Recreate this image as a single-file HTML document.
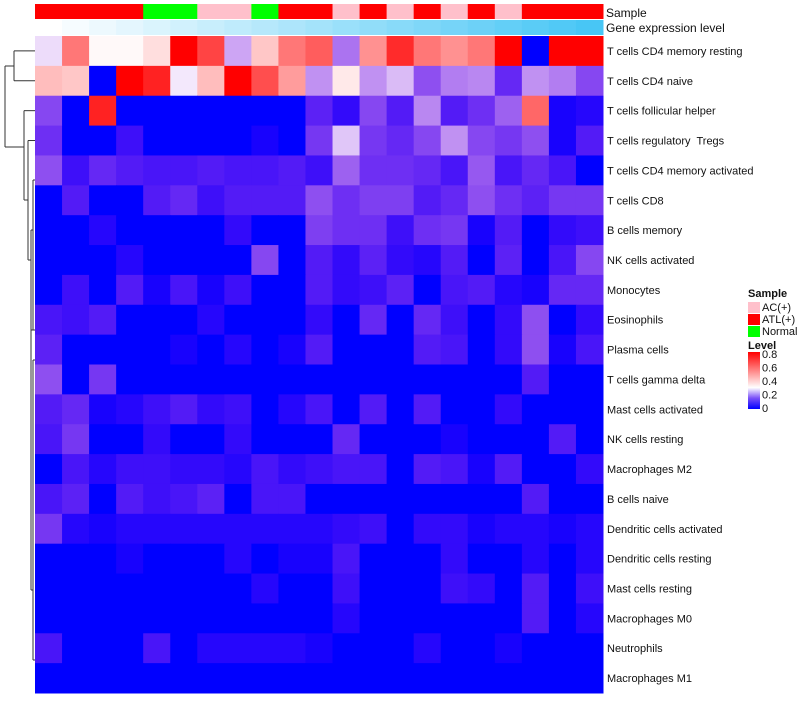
<!DOCTYPE html>
<html><head><meta charset="utf-8"><style>
body{margin:0;background:#fff;font-family:"Liberation Sans",sans-serif;}
svg text{font-family:"Liberation Sans",sans-serif;fill:#111;white-space:pre;}
</style></head><body>
<svg id="chart" width="800" height="700"></svg>
<script>
const rows=["T cells CD4 memory resting","T cells CD4 naive","T cells follicular helper","T cells regulatory  Tregs","T cells CD4 memory activated","T cells CD8","B cells memory","NK cells activated","Monocytes","Eosinophils","Plasma cells","T cells gamma delta","Mast cells activated","NK cells resting","Macrophages M2","B cells naive","Dendritic cells activated","Dendritic cells resting","Mast cells resting","Macrophages M0","Neutrophils","Macrophages M1"];
const samples=["ATL","ATL","ATL","ATL","Normal","Normal","AC","AC","Normal","ATL","ATL","AC","ATL","AC","ATL","AC","ATL","AC","ATL","ATL","ATL"];
const levels=[
[.27,.55,.31,.31,.36,.8,.65,.22,.4,.55,.6,.17,.5,.7,.55,.5,.55,.8,0,.8,.8],
[.42,.4,0,.8,.72,.28,.42,.8,.63,.48,.2,.34,.2,.24,.13,.18,.19,.08,.2,.18,.12],
[.12,0,.72,0,0,0,0,0,0,0,.07,.03,.12,.06,.19,.06,.09,.15,.58,.01,.02],
[.09,0,0,.04,0,0,0,0,.01,0,.1,.25,.1,.08,.12,.2,.12,.1,.13,.01,.06],
[.13,.04,.08,.06,.05,.05,.06,.05,.05,.06,.04,.15,.09,.09,.08,.05,.14,.05,.08,.05,0],
[0,.06,0,0,.06,.08,.04,.06,.06,.06,.13,.09,.11,.11,.06,.08,.13,.09,.07,.1,.1],
[0,0,.02,0,0,0,0,.03,0,0,.11,.09,.09,.04,.09,.1,.01,.06,0,.03,.04],
[0,0,0,.02,0,0,0,0,.12,0,.06,.03,.07,.03,.02,.06,0,.07,0,.05,.12],
[0,.04,0,.06,.01,.05,.01,.04,0,0,.06,.03,.04,.07,0,.05,.06,.02,.01,.08,.08],
[.05,.04,.06,0,0,0,.02,0,0,0,.03,0,.08,0,.08,.04,0,.03,.13,0,.03],
[.07,0,0,0,0,.01,0,.02,0,.01,.06,0,0,0,.06,.05,0,.03,.13,.01,.05],
[.13,0,.1,0,0,0,0,0,0,0,0,0,0,0,0,0,0,0,.06,0,0],
[.06,.08,.01,.02,.04,.06,.03,.04,0,.02,.05,0,.06,0,.06,0,0,.03,0,0,0],
[.05,.1,0,0,.03,0,0,.03,0,0,0,.08,0,0,0,.01,0,0,0,.06,0],
[0,.05,.02,.04,.04,.03,.03,.02,.05,.03,.04,.05,.05,0,.06,.05,.01,.06,0,0,.03],
[.05,.07,0,.06,.04,.05,.07,0,.05,.05,0,0,0,0,0,0,0,0,.06,0,0],
[.1,.02,.01,.02,.02,.02,.02,.02,.02,.02,.02,.03,.04,0,.03,.03,.01,.02,.02,.01,.02],
[0,0,0,.01,0,0,0,.02,0,.01,.01,.05,0,0,0,.03,0,0,.02,0,.02],
[0,0,0,0,0,0,0,0,.02,0,0,.04,0,0,0,.04,.03,0,.06,0,.04],
[0,0,0,0,0,0,0,0,0,0,0,.02,0,0,0,0,0,0,.06,0,.02],
[.05,0,0,0,.05,0,.02,.02,.02,.02,.01,0,0,0,.02,0,0,.01,0,0,0],
[0,0,0,0,0,0,0,0,0,0,0,0,0,0,0,0,0,0,0,0,0]];
const sampleColors={AC:"#FFC0CB",ATL:"#FF0000",Normal:"#00FF00"};
const NS="http://www.w3.org/2000/svg";
const svg=document.getElementById('chart');
const X0=35,X1=603,Y0=36,Y1=693;
const cw=(X1-X0)/samples.length, rh=(Y1-Y0)/rows.length;
function xs(j){return X0+j*cw;}
function ys(i){return Y0+i*rh;}
function col(v){v=Math.max(0,Math.min(0.8,v));
 if(v<=0.3){const t=v/0.3;const r=Math.round(255*Math.pow(t,0.7));const g=Math.round(255*Math.pow(t,1.4));const b=Math.round(255-15*Math.sin(Math.PI*t));return `rgb(${r},${g},${b})`;}
 const t=(v-0.3)/0.5;const c=Math.round(255*Math.pow(1-t,1.1));return `rgb(255,${c},${c})`;}
function mk(tag,attrs){const e=document.createElementNS(NS,tag);for(const k in attrs)e.setAttribute(k,attrs[k]);svg.appendChild(e);return e;}
samples.forEach((s,j)=>{
 const r=mk('rect',{x:xs(j),y:4,width:cw+0.5,height:15,fill:sampleColors[s]});
 
 
 const t=j/(samples.length-1);
 const g=mk('rect',{x:xs(j),y:20,width:cw+0.5,height:15,fill:`rgb(${Math.round(255-(255-72)*t)},${Math.round(255-(255-198)*t)},${Math.round(255-(255-245)*t)})`});
 
 
});
levels.forEach((row,i)=>{row.forEach((v,j)=>{
 const r=mk('rect',{x:xs(j),y:ys(i),width:cw+0.5,height:rh+0.5,fill:col(v)});
 
 
});
 const t=mk('text',{x:607,y:ys(i)+rh/2+4,'font-size':11});t.textContent=rows[i];
 
 
});
let t1=mk('text',{x:606,y:17,'font-size':12});t1.textContent="Sample";


let t2=mk('text',{x:606,y:32,'font-size':12});t2.textContent="Gene expression level";


function ry(i){return ys(i)+rh/2;}
const dl=[[35,ry(0),14,ry(0)],[35,ry(1),14,ry(1)],[14,ry(0),14,ry(1)],[14,66,5,66],[5,66,5,147],[5,147,24,147],
[35,ry(2),24,ry(2)],[24,ry(2),24,200],[24,200,28,200],[35,ry(3),28,ry(3)],[28,ry(3),28,260],[28,260,31,260],
[31,230,31,590],[31,230,33,230],[31,590,33,590],[33,180,33,330],[33,360,33,660],[33,180,35,180],[33,330,35,330],[33,360,35,360],[33,660,35,660],[31,330,33,330]];
dl.forEach(l=>{const e=mk('line',{x1:l[0],y1:l[1],x2:l[2],y2:l[3],stroke:'#333','stroke-width':1});
 
 });
let lt=mk('text',{x:748,y:297,'font-size':11,'font-weight':'bold'});lt.textContent="Sample";


[["AC(+)","AC"],["ATL(+)","ATL"],["Normal","Normal"]].forEach((e,k)=>{
 const r=mk('rect',{x:748,y:302+k*12,width:12,height:11,fill:sampleColors[e[1]]});
 
 
 const t=mk('text',{x:762,y:311+k*12,'font-size':11});t.textContent=e[0];
 
 
});
let lv=mk('text',{x:748,y:349,'font-size':11,'font-weight':'bold'});lv.textContent="Level";


const defs=mk('defs',{});
const lg=document.createElementNS(NS,'linearGradient');lg.setAttribute('id','lvg');lg.setAttribute('x1',0);lg.setAttribute('y1',1);lg.setAttribute('x2',0);lg.setAttribute('y2',0);
[[0,'#0000ff'],[0.19,'#7a50f8'],[0.375,'#ffffff'],[1,'#ff0000']].forEach(s=>{const st=document.createElementNS(NS,'stop');st.setAttribute('offset',s[0]);st.setAttribute('stop-color',s[1]);lg.appendChild(st);});
defs.appendChild(lg);
const cb=mk('rect',{x:748,y:352,width:12,height:57,fill:'url(#lvg)'});


["0.8","0.6","0.4","0.2","0"].forEach((s,k)=>{const t=mk('text',{x:762,y:358+k*13.5,'font-size':11});t.textContent=s;
 
 });
</script>
</body></html>
